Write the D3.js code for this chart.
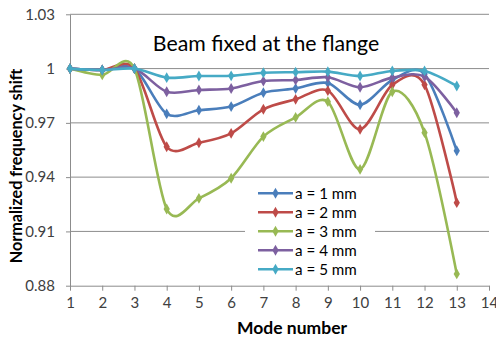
<!DOCTYPE html>
<html>
<head>
    <script src="https://d3js.org/d3.v7.min.js"></script>
    <style>
        body { margin: 0; background: #fff; }
        text { font-family: Lato, "Liberation Sans", sans-serif; }
    </style>
</head>
<body>
    <div id="chart"></div>
    <script>
        // data
        var modes = [1, 2, 3, 4, 5, 6, 7, 8, 9, 10, 11, 12, 13];
        var seriesNames = ["a = 1 mm", "a = 2 mm", "a = 3 mm", "a = 4 mm", "a = 5 mm"];
        var a1 = [1, 0.9992, 1, 0.975, 0.977, 0.979, 0.9867, 0.989, 0.992, 0.980, 0.9937, 0.997, 0.9546];
        var a2 = [1, 0.9992, 1, 0.9568, 0.959, 0.9642, 0.9775, 0.983, 0.9878, 0.9664, 0.991, 0.991, 0.9259];
        var a3 = [1, 0.9965, 1, 0.9224, 0.9283, 0.9394, 0.9624, 0.973, 0.9817, 0.9443, 0.9872, 0.9646, 0.8865];
        var a4 = [1, 0.9992, 1, 0.9872, 0.9882, 0.989, 0.9931, 0.9937, 0.9952, 0.9897, 0.995, 0.9955, 0.9756];
        var a5 = [1, 0.9992, 1, 0.995, 0.9959, 0.996, 0.9977, 0.998, 0.9983, 0.9959, 0.9987, 0.9987, 0.9904];
        var yTicks = [0.88, 0.91, 0.94, 0.97, 1, 1.03];
        var yTickLabels = ["0.88", "0.91", "0.94", "0.97", "1", "1.03"];
        var xTicks = [1, 2, 3, 4, 5, 6, 7, 8, 9, 10, 11, 12, 13, 14];
        var colors = ["#4A7EBB", "#BE4B48", "#98B954", "#7D60A0", "#46AAC5"];

        var allSeries = [a1, a2, a3, a4, a5];

        var width = 496, height = 338;
        var svg = d3.select("#chart").append("svg")
            .attr("width", width)
            .attr("height", height);

        var x = d3.scaleLinear().domain([1, 14]).range([70, 489]);
        var y = d3.scaleLinear().domain([0.88, 1.03]).range([285.7, 14.3]);

        // gridlines
        svg.append("g")
            .selectAll("line")
            .data(yTicks.slice(1))
            .enter().append("line")
            .attr("x1", x(1)).attr("x2", x(14))
            .attr("y1", d => y(d)).attr("y2", d => y(d))
            .attr("stroke", "#8c8c8c").attr("stroke-width", 1);

        // y axis
        var yAxis = svg.append("g")
            .attr("transform", "translate(" + x(1) + ",0)")
            .call(d3.axisLeft(y).tickValues(yTicks).tickSize(4).tickSizeOuter(0)
                .tickFormat((d, i) => yTickLabels[i]));
        yAxis.select(".domain").attr("stroke", "#8c8c8c");
        yAxis.selectAll(".tick line").attr("stroke", "#8c8c8c");
        yAxis.selectAll(".tick text")
            .attr("x", -15)
            .style("font-size", "15px").attr("fill", "#404040");

        // x axis
        var xAxis = svg.append("g")
            .attr("transform", "translate(0," + y(0.88) + ")")
            .call(d3.axisBottom(x).tickValues(xTicks).tickSize(5).tickSizeOuter(0)
                .tickFormat(d3.format("d")));
        xAxis.select(".domain").attr("stroke", "#8c8c8c");
        xAxis.selectAll(".tick line").attr("stroke", "#8c8c8c");
        xAxis.selectAll(".tick text")
            .attr("y", 12)
            .style("font-size", "15px").attr("fill", "#404040");

        // series lines, smoothed like the original
        var line = d3.line()
            .x((d, i) => x(modes[i]))
            .y(d => y(d))
            .curve(d3.curveCardinal.tension(0.1));

        var diamond = d3.symbol().type(d3.symbolDiamond).size(34);

        allSeries.forEach(function (vals, s) {
            var g = svg.append("g");
            g.append("path")
                .datum(vals)
                .attr("d", line)
                .attr("fill", "none")
                .attr("stroke", colors[s])
                .attr("stroke-width", 2.6);
            g.selectAll("path.mk")
                .data(vals)
                .enter().append("path")
                .attr("class", "mk")
                .attr("d", diamond)
                .attr("transform", (d, i) => "translate(" + x(modes[i]) + "," + y(d) + ")")
                .attr("fill", colors[s]);
        });

        // title
        svg.append("text")
            .attr("x", 266).attr("y", 51)
            .attr("text-anchor", "middle")
            .style("font-size", "21.3px")
            .attr("fill", "#000")
            .text("Beam fixed at the flange");

        // axis titles
        svg.append("text")
            .attr("x", 292).attr("y", 334)
            .attr("text-anchor", "middle")
            .style("font-size", "17.5px").style("font-weight", "bold")
            .text("Mode number");

        svg.append("text")
            .attr("transform", "translate(22,166) rotate(-90)")
            .attr("text-anchor", "middle")
            .style("font-size", "16.2px").style("font-weight", "bold")
            .text("Normalized frequency shift");

        // legend
        var legend = svg.append("g");
        legend.append("rect")
            .attr("x", 245).attr("y", 182)
            .attr("width", 130).attr("height", 97)
            .attr("fill", "#fff");
        seriesNames.forEach(function (name, i) {
            var ly = 193.3 + i * 19;
            legend.append("line")
                .attr("x1", 258).attr("x2", 293)
                .attr("y1", ly).attr("y2", ly)
                .attr("stroke", colors[i]).attr("stroke-width", 2.6);
            legend.append("path")
                .attr("d", diamond)
                .attr("transform", "translate(275.5," + ly + ")")
                .attr("fill", colors[i]);
            legend.append("text")
                .attr("x", 295).attr("y", ly)
                .attr("dy", "0.35em")
                .style("font-size", "15.2px")
                .attr("fill", "#000")
                .text(name);
        });
    </script>
</body>
</html>
